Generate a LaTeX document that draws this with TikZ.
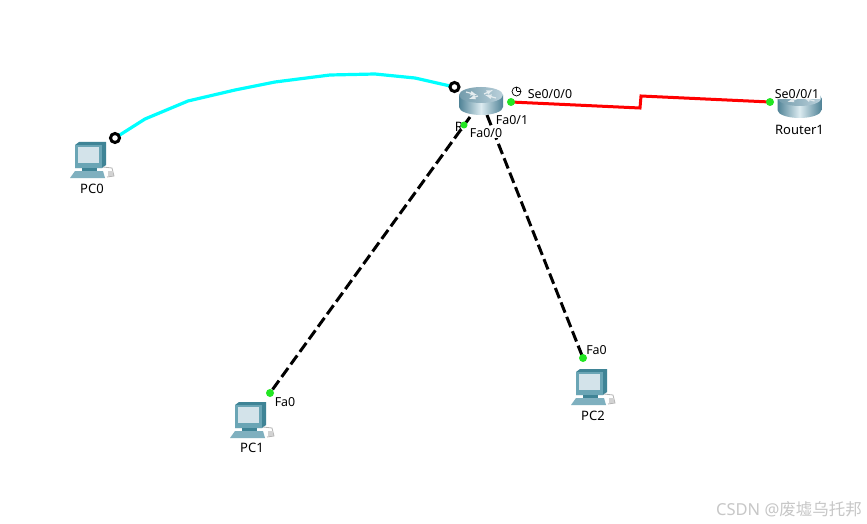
\documentclass[tikz,border=0pt]{standalone}
\usepackage{fontspec}
\setmainfont{Noto Sans}
\newfontfamily\cjkfont{Noto Sans CJK SC}
\usetikzlibrary{positioning}
\definecolor{pcdark}{HTML}{3F8496}
\definecolor{pcface}{HTML}{6AA5B5}
\definecolor{pcscreen}{HTML}{D3E3EA}
\definecolor{pcbase}{HTML}{7FB0BF}
\definecolor{routerdark}{HTML}{4F8296}
\definecolor{routerlight}{HTML}{DCEBF0}
\definecolor{routertop}{HTML}{8FB3C4}
\definecolor{portgreen}{HTML}{22E622}
\definecolor{consolecyan}{HTML}{00FFFF}
\tikzset{
  devlabel/.style={font=\fontsize{13}{15}\selectfont, inner sep=0.5pt, text=black},
  portlabel/.style={font=\fontsize{12.4}{14}\selectfont, inner sep=0.5pt, fill=white, text=black},
  devnode/.style={inner sep=0pt, minimum size=1pt},
  portdot/.style={circle, fill=portgreen, inner sep=0pt, minimum size=8pt},
  portring/.style={circle, draw=black, line width=3pt, fill=white, inner sep=0pt, minimum size=9pt},
  copperlink/.style={black, line width=3pt, dash pattern=on 11pt off 4.5pt},
  serial/.style={red, line width=3pt},
  console/.style={consolecyan, line width=3.2pt, line join=round},
  pics/pcicon/.style={code={
    % monitor
    \fill[pcdark] (-15,-13) -- (-11,-16) -- (16,-16) -- (16,7) -- (12,10) -- (-15,10) -- cycle;
    \fill[pcface] (-15,-13) rectangle (12,10);
    \fill[pcscreen] (-12,-11) rectangle (9,5);
    % base
    \fill[pcdark] (-8,10) rectangle (7,13);
    \fill[pcbase] (-20,20) -- (-15,13) -- (13,13) -- (15,20) -- cycle;
    % mouse and cable
    \draw[gray!60, line width=0.8pt] (13,9) -- (22,10) -- (24,18) -- (17,19);
    \fill[gray!35] (18,13) rectangle (23,18);
  }},
  pics/routericon/.style={code={
    \shade[left color=routerdark, right color=routerdark, middle color=routerlight]
      (-22,-5) -- (-22,7) arc[start angle=180, end angle=0, x radius=22, y radius=8] -- (22,-5) -- cycle;
    \shade[left color=routerdark!80, right color=routertop!60] (0,-5) ellipse[x radius=22, y radius=8];
    % arrows on the top
    \draw[white!85!routerdark, line width=1.2pt, ->, >=latex] (-15,-8) -- (-4,-5);
    \draw[white!85!routerdark, line width=1.2pt, ->, >=latex] (15,-2) -- (4,-5);
    \draw[white!85!routerdark, line width=1.2pt, ->, >=latex] (3,-6) -- (12,-10);
    \draw[white!85!routerdark, line width=1.2pt, ->, >=latex] (-3,-4) -- (-12,-1);
  }}
}
\begin{document}
\begin{tikzpicture}[x=1pt,y=-1pt]
  \fill[white] (0,0) rectangle (867,524);
  \useasboundingbox (0,0) rectangle (867,524);

  % Devices
  \node[devnode] (PC0) at (90,158) {};
  \node[devnode] (PC1) at (250,418) {};
  \node[devnode] (PC2) at (591,385) {};
  \node[devnode] (Router0) at (481,100) {};
  \node[devnode] (Router1) at (799.5,103) {};

  % Link ends
  \coordinate (PC0port) at (115,138);
  \coordinate (R0console) at (454.5,87);
  \coordinate (R0fa0) at (464,125);
  \coordinate (R0fa1) at (487,115);
  \coordinate (R0se) at (511,102);
  \coordinate (R1se) at (770,102);
  \coordinate (PC1port) at (270,393);
  \coordinate (PC2port) at (583,358);
  \coordinate (bendA) at (640,108);
  \coordinate (bendB) at (641,96);

  % Links
  \draw[console] (PC0port) -- (145,119) -- (188,101) -- (235,90) -- (275,82) -- (330,75)
    -- (375,74) -- (415,78) -- (R0console);
  \draw[copperlink] (R0fa0) ++(6,-8) -- (PC1port);
  \draw[copperlink] (R0fa1) -- (PC2port);
  \draw[serial] (R0se) -- (bendA) -- (bendB) -- (R1se);

  % Icons
  \foreach \dev in {PC0,PC1,PC2} {
    \pic at (\dev) {pcicon};
  }
  \foreach \dev in {Router0,Router1} {
    \pic at (\dev) {routericon};
  }

  % Port markers
  \node[portring] (ringA) at (PC0port) {};
  \node[portring] (ringB) at (R0console) {};
  \foreach \port/\nm in {R0se/dotA, R1se/dotB, PC1port/dotC, PC2port/dotD} {
    \node[portdot] (\nm) at (\port) {};
  }

  % Device names
  \node[devlabel] (PC0name) at (92,189) {PC0};
  \node[devlabel] (PC1name) at (252,448) {PC1};
  \node[devlabel] (PC2name) at (593,416) {PC2};
  \node[devlabel] (R1name) at (799.5,130) {Router1};

  % Port names
  \node[devlabel] (stray) at (459,127) {R};
  \node[portdot, minimum size=7pt] (dotE) at (R0fa0) {};
  \node[portlabel] (fa00) at (486,133) {Fa0/0};
  \node[portlabel] (fa01) at (512,120.5) {Fa0/1};
  \node[portlabel, fill=none] (se000) at (550,94) {Se0/0/0};
  \node[portlabel] (se001) at (797,94) {Se0/0/1};
  \node[portlabel] (fa0a) at (285,402) {Fa0};
  \node[portlabel] (fa0b) at (596.5,350) {Fa0};

  % Clock
  \node[circle, draw=black, line width=0.7pt, inner sep=0pt, minimum size=9pt] (clock) at (516.5,91.5) {};
  \draw[line width=0.7pt] (clock.center) -- (clock.north) (clock.center) -- (clock.east);

  % Watermark
  \node[anchor=west, text=black!22, font=\fontsize{16.5}{18}\selectfont, inner sep=0pt] (mark) at (716,509) {CSDN @{\cjkfont 废墟乌托邦}};
\end{tikzpicture}
\end{document}
